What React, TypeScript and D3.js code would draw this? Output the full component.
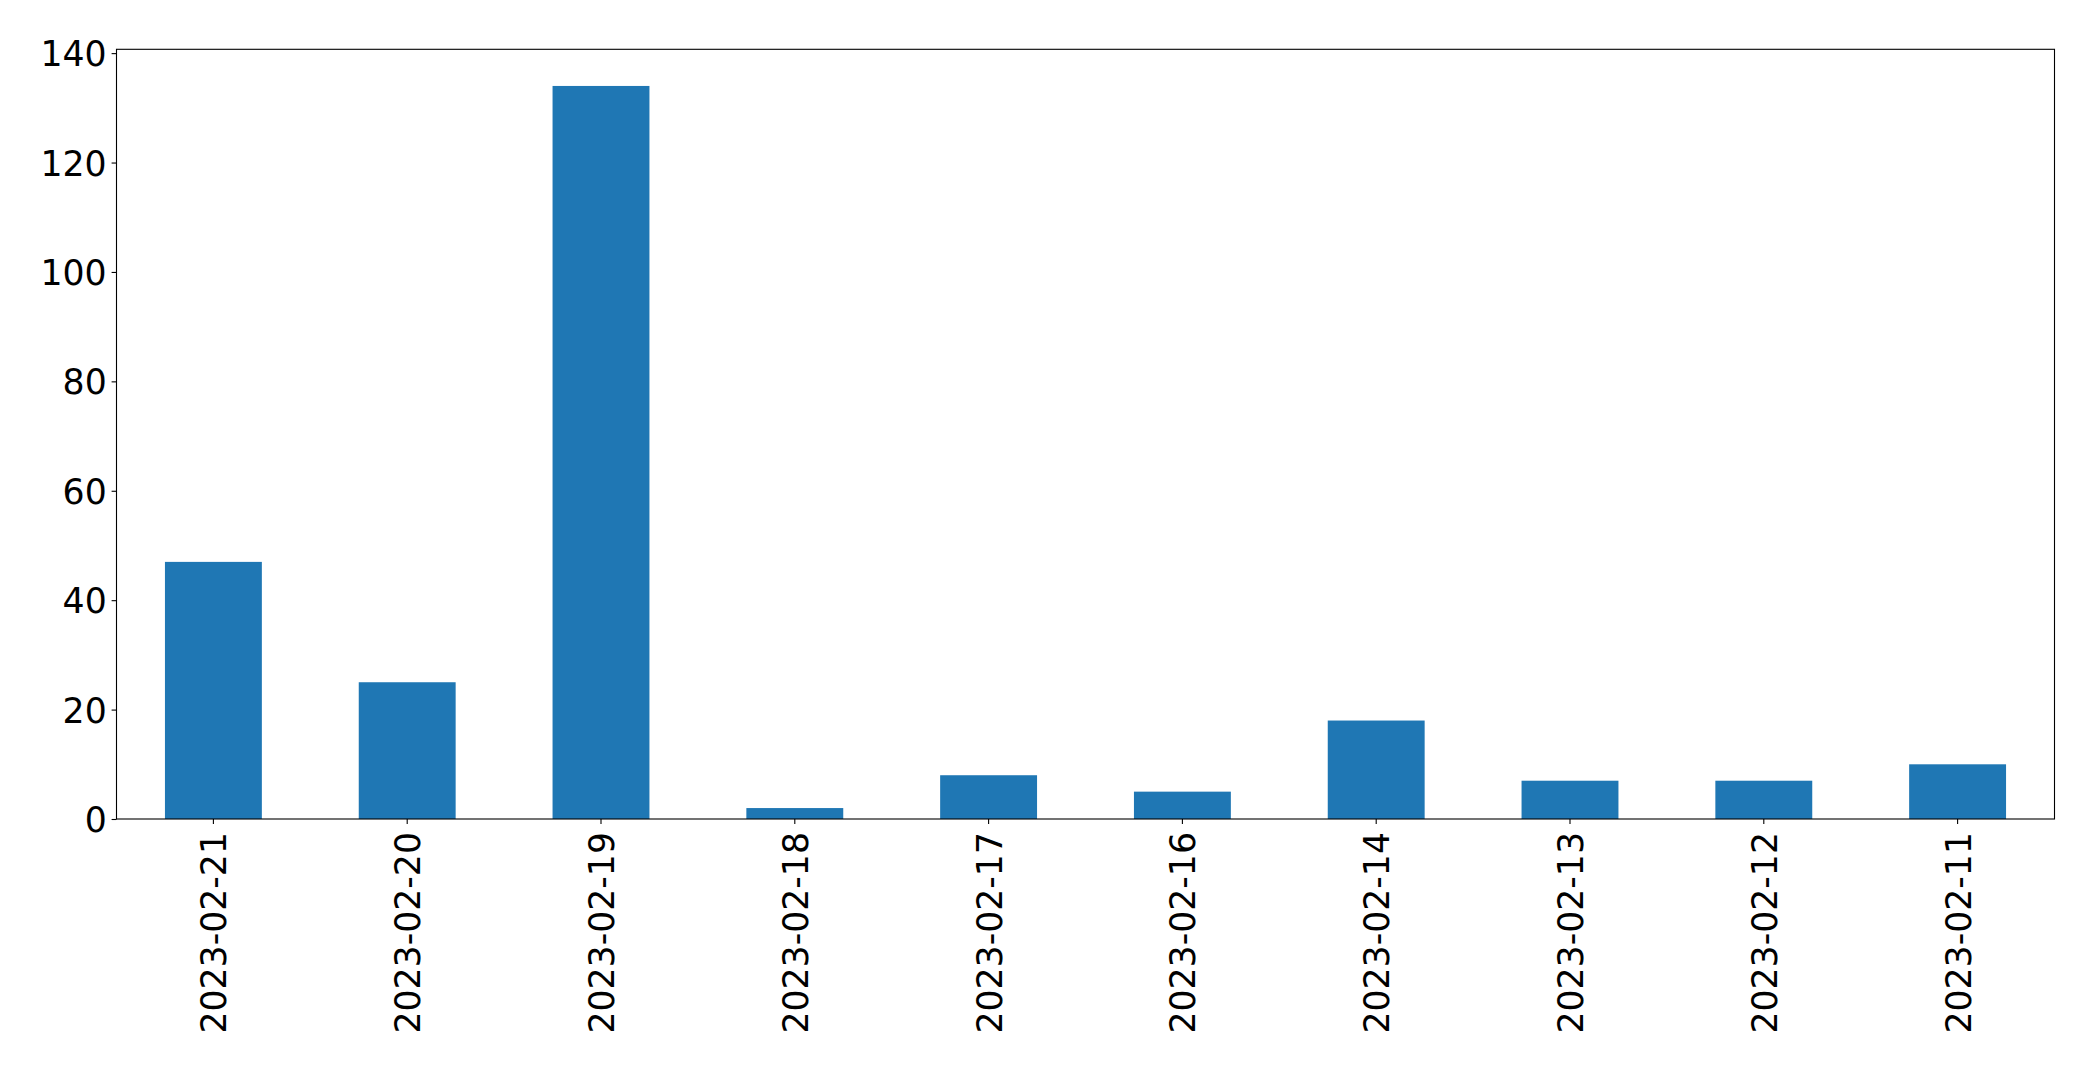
import React, { useEffect, useRef } from 'react';
import * as d3 from 'd3';

const dates = [
  '2023-02-21', '2023-02-20', '2023-02-19', '2023-02-18', '2023-02-17',
  '2023-02-16', '2023-02-14', '2023-02-13', '2023-02-12', '2023-02-11',
];
const counts = [47, 25, 134, 2, 8, 5, 18, 7, 7, 10];
const yTicks = [0, 20, 40, 60, 80, 100, 120, 140];

const App: React.FC = () => {
  const svgRef = useRef<SVGSVGElement>(null);

  useEffect(() => {
    if (!svgRef.current) return;
    const svg = d3.select(svgRef.current);
    svg.selectAll('*').remove();

    const width = 2093;
    const height = 1071;
    const margin = { top: 49.3, right: 2093 - 2054.5, bottom: 1071 - 819, left: 116.5 };
    const font = 'DejaVu Sans, sans-serif';
    const fontSize = 34.7;

    const x = d3.scaleBand<string>()
      .domain(dates)
      .range([margin.left, width - margin.right])
      .paddingInner(0.5)
      .paddingOuter(0.25);

    // matplotlib-style 5% headroom above the tallest bar
    const yMax = d3.max(counts)! * 1.05;
    const y = d3.scaleLinear()
      .domain([0, yMax])
      .range([height - margin.bottom, margin.top]);

    // Bars
    svg.append('g')
      .selectAll('rect')
      .data(counts)
      .enter()
      .append('rect')
      .attr('x', (_, i) => x(dates[i])!)
      .attr('width', x.bandwidth())
      .attr('y', d => y(d))
      .attr('height', d => y(0) - y(d))
      .attr('fill', '#1f77b4');

    // Y axis
    const yAxis = svg.append('g')
      .attr('transform', `translate(${margin.left},0)`)
      .call(d3.axisLeft(y).tickValues(yTicks).tickSize(4.9).tickPadding(4.9).tickFormat(d3.format('d')));
    yAxis.select('.domain').remove();
    yAxis.selectAll('line').attr('stroke', '#000').attr('stroke-width', 1.1);
    yAxis.selectAll('text')
      .attr('font-family', font)
      .attr('font-size', fontSize)
      .attr('fill', '#000')
      .attr('dy', '0.36em');

    // X axis
    const xAxis = svg.append('g')
      .attr('transform', `translate(0,${y(0)})`)
      .call(d3.axisBottom(x).tickSize(4.9).tickPadding(0));
    xAxis.select('.domain').remove();
    xAxis.selectAll('line').attr('stroke', '#000').attr('stroke-width', 1.1);
    xAxis.selectAll('text')
      .attr('font-family', font)
      .attr('font-size', fontSize)
      .attr('fill', '#000')
      .attr('text-anchor', 'end')
      .attr('dominant-baseline', 'central')
      .attr('dy', null)
      .attr('y', 0)
      .attr('transform', 'translate(1,13) rotate(-90)');

    // Frame
    svg.append('rect')
      .attr('x', margin.left)
      .attr('y', margin.top)
      .attr('width', width - margin.left - margin.right)
      .attr('height', y(0) - margin.top)
      .attr('fill', 'none')
      .attr('stroke', '#000')
      .attr('stroke-width', 1.1);
  }, []);

  return (
    <svg
      ref={svgRef}
      width={2093}
      height={1071}
      style={{ position: 'absolute', left: 0, top: 0, background: '#fff' }}
    />
  );
};

export default App;
